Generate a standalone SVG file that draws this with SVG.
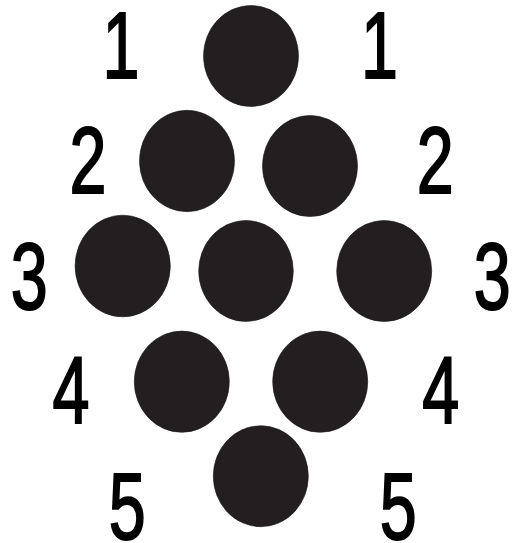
<svg xmlns="http://www.w3.org/2000/svg" width="512" height="543" viewBox="0 0 512 543">
<style>
.dot{fill:#231f20;stroke:#1a1718;stroke-width:0.6}
.n{font-family:"Liberation Sans",Arial,sans-serif;font-size:95px;fill:#000;stroke:#000;stroke-width:2;text-anchor:middle}
</style>
<rect width="512" height="543" fill="#fff"/>
<g id="dots">
<g id="d1"><ellipse class="dot" cx="251" cy="56" rx="47.5" ry="50.5"/></g>
<g id="d2"><ellipse class="dot" cx="187" cy="161" rx="47.5" ry="50.7"/></g>
<g id="d3"><ellipse class="dot" cx="310" cy="166" rx="47.5" ry="50.5"/></g>
<g id="d4"><ellipse class="dot" cx="122.7" cy="266" rx="47.6" ry="50.8"/></g>
<g id="d5"><ellipse class="dot" cx="246" cy="271" rx="47.3" ry="50.5"/></g>
<g id="d6"><ellipse class="dot" cx="384.2" cy="271" rx="47.5" ry="50.5"/></g>
<g id="d7"><ellipse class="dot" cx="181.8" cy="381.7" rx="47.5" ry="50.6"/></g>
<g id="d8"><ellipse class="dot" cx="320.2" cy="381.7" rx="47.5" ry="50.6"/></g>
<g id="d9"><ellipse class="dot" cx="260.8" cy="476.2" rx="47.5" ry="50.5"/></g>
</g>
<g id="labels">
<text class="n" transform="translate(121,78.3) scale(0.7,1)">1</text>
<text class="n" transform="translate(379.5,78.3) scale(0.7,1)">1</text>
<text class="n" transform="translate(88,193.3) scale(0.7,1)">2</text>
<text class="n" transform="translate(435.3,193.3) scale(0.7,1)">2</text>
<text class="n" transform="translate(29.2,309) scale(0.7,1)">3</text>
<text class="n" transform="translate(492.2,309) scale(0.7,1)">3</text>
<text class="n" transform="translate(71,423.3) scale(0.7,1)">4</text>
<text class="n" transform="translate(440.8,423.3) scale(0.7,1)">4</text>
<text class="n" transform="translate(127.2,539) scale(0.7,1)">5</text>
<text class="n" transform="translate(398.3,539) scale(0.7,1)">5</text>
</g>
</svg>
